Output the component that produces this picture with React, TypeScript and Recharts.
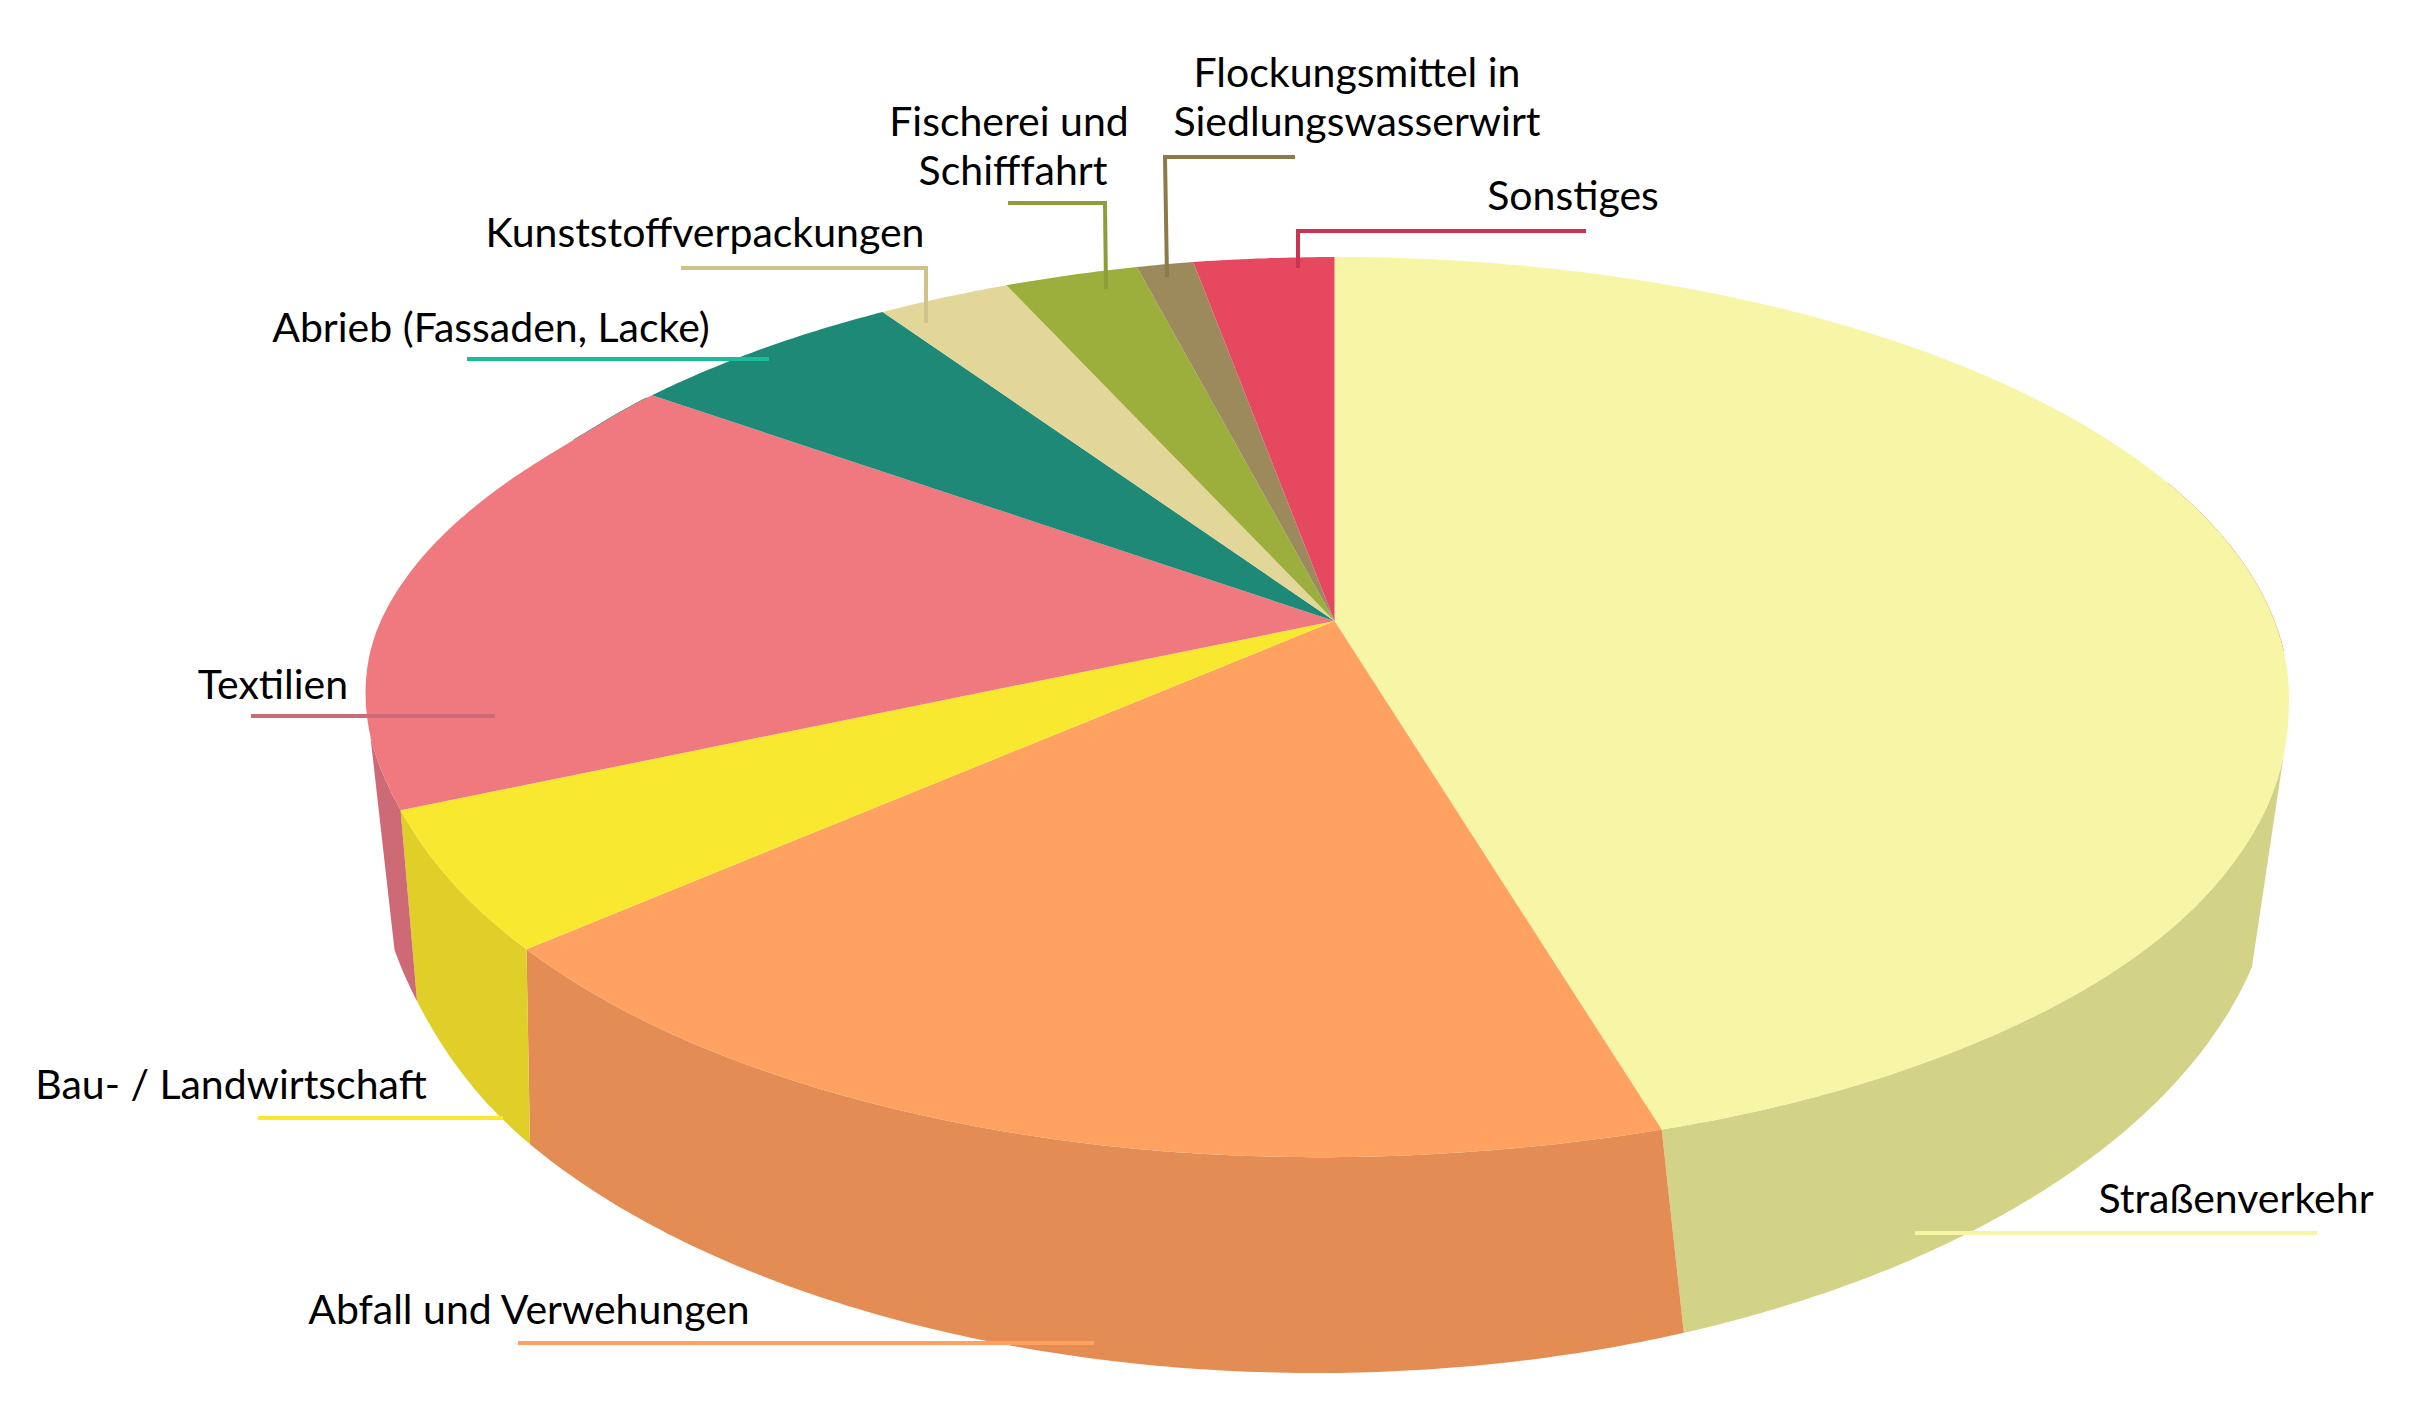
import React from "react";
import { PieChart, Pie } from "recharts";

const categories = [
  "Straßenverkehr",
  "Abfall und Verwehungen",
  "Bau- / Landwirtschaft",
  "Textilien",
  "Abrieb (Fassaden, Lacke)",
  "Kunststoffverpackungen",
  "Fischerei und Schifffahrt",
  "Flockungsmittel in Siedlungswasserwirt",
  "Sonstiges",
];
const shares = [45.33, 18.16, 4.87, 16.78, 5.65, 2.66, 2.66, 1.12, 2.77];
const topColors = ["#F6F6A6", "#FFA160", "#F9E830", "#EF797E", "#1E8977", "#E2D798", "#9CAE3B", "#9C8A5C", "#E6485F"];
const wallColors = ["#D3D387", "#E38D55", "#DFCF28", "#CD6A76", "#1E8977", "#E2D798", "#9CAE3B", "#9C8A5C", "#E6485F"];
const lineColors = ["#F6F6A6", "#FFA160", "#F9E830", "#CC6A78", "#1ABC9C", "#CFC28A", "#8E9C3A", "#8B7B4B", "#CC3350"];
const labelLines = [
  ["Straßenverkehr"],
  ["Abfall und Verwehungen"],
  ["Bau- / Landwirtschaft"],
  ["Textilien"],
  ["Abrieb (Fassaden, Lacke)"],
  ["Kunststoffverpackungen"],
  ["Fischerei und", "Schifffahrt"],
  ["Flockungsmittel in", "Siedlungswasserwirt"],
  ["Sonstiges"],
];

// Label layout: centre x of the text and baseline y per line.
const labelAnchors: [number[], number[]][] = [
  [[2236], [1213]],
  [[529], [1324]],
  [[231], [1099]],
  [[273], [699]],
  [[491], [342]],
  [[705], [247]],
  [[1009, 1013], [136, 185]],
  [[1357, 1357], [87, 136]],
  [[1573], [210]],
];
const leaderPaths = [
  "M1915 1233H2317",
  "M518 1343H1094",
  "M258 1118H503",
  "M251 716H495",
  "M467 359H769",
  "M681 268H926V323",
  "M1008 203H1105L1106 289",
  "M1295 157H1165L1167 277",
  "M1586 231H1298V268",
];

// Projection of the tilted disc onto the page.
const APEX_X = 1334.5;
const APEX_Y = 621;
const RIM_CY = 697;
const A_RIGHT = 954.5;
const A_LEFT = 970.5;
const B_UP = 440;
const B_DOWN = 458;
const Q = -0.173;
const WALL_FROM = 106.9;
const WALL_TO = 255.3;
// radial trim of the upper rim, by angle clockwise from the top
const rimTrim: [number, number][] = [
  [0, 0], [100, 0], [115, 6], [130, 10], [150, 6], [170, 1.5], [195, 4], [215, 3], [232, -2.5], [246, -6],
  [258, -2], [268, -1.5], [278, -7], [290, -16], [298, -20], [306, -15], [326, -6], [345, -1], [360, 0],
];
// lower rim: an ellipse, reached from the slice angle through these stations
const LOW_CX = 1318;
const LOW_CY = 850;
const LOW_A = 959;
const LOW_B = 523;
const lowStations: [number, number][] = [
  [106.9, 12.9],
  [163.2, 67.4],
  [228.5, 145.7],
  [246.2, 163.3],
  [255.3, 169],
];
const lowShift: [number, number][] = [
  [0, 0], [60, -3], [120, 0], [146, 5], [163, 17], [180, 17],
];
// hair-thin edges of other slices that peek out past the rim: slice, from, to
const rimEdges: [number, number, number][] = [
  [1, 70, 94],
  [4, 298, 306],
];

function spline(ts: number[], vs: number[], t: number): number {
  const n = ts.length;
  if (t <= ts[0]) return vs[0];
  if (t >= ts[n - 1]) return vs[n - 1];
  let i = 0;
  while (t > ts[i + 1]) i++;
  const slope = (k: number) => {
    if (k === 0) return (vs[1] - vs[0]) / (ts[1] - ts[0]);
    if (k === n - 1) return (vs[n - 1] - vs[n - 2]) / (ts[n - 1] - ts[n - 2]);
    return (vs[k + 1] - vs[k - 1]) / (ts[k + 1] - ts[k - 1]);
  };
  const h = ts[i + 1] - ts[i];
  const u = (t - ts[i]) / h;
  const u2 = u * u;
  const u3 = u2 * u;
  return (
    (2 * u3 - 3 * u2 + 1) * vs[i] +
    (u3 - 2 * u2 + u) * h * slope(i) +
    (-2 * u3 + 3 * u2) * vs[i + 1] +
    (u3 - u2) * h * slope(i + 1)
  );
}

const S = Math.sqrt(1 - Q * Q);
const trimT = rimTrim.map((r) => r[0]);
const trimV = rimTrim.map((r) => r[1]);
function rim(theta: number): [number, number] {
  const r = (theta * Math.PI) / 180;
  const ux = Math.sin(r);
  const uy = -Math.cos(r);
  const den = 1 + Q * uy;
  const X = (ux * S) / den;
  const Y = (uy + Q) / den;
  const px = APEX_X + X * (X >= 0 ? A_RIGHT : A_LEFT);
  const py = RIM_CY + Y * (Y >= 0 ? B_DOWN : B_UP);
  const len = Math.hypot(px - APEX_X, py - APEX_Y);
  const k = 1 + spline(trimT, trimV, ((theta % 360) + 360) % 360) / len;
  return [APEX_X + (px - APEX_X) * k, APEX_Y + (py - APEX_Y) * k];
}
const stT = lowStations.map((r) => r[0]);
const stP = lowStations.map((r) => r[1]);
const shT = lowShift.map((r) => r[0]);
const shV = lowShift.map((r) => r[1]);
function rimLow(theta: number): [number, number] {
  const psi = spline(stT, stP, theta);
  const r = (psi * Math.PI) / 180;
  return [LOW_CX + LOW_A * Math.cos(r) + spline(shT, shV, psi), LOW_CY + LOW_B * Math.sin(r)];
}
function sampled(from: number, to: number): number[] {
  const out: number[] = [];
  const n = Math.max(2, Math.ceil((to - from) / 0.5));
  for (let i = 0; i <= n; i++) out.push(from + ((to - from) * i) / n);
  return out;
}
const pts = (list: [number, number][]) => list.map((p) => `${p[0].toFixed(1)} ${p[1].toFixed(1)}`).join("L");

function TopSlice(props: any) {
  const from = 90 - props.startAngle;
  const to = 90 - props.endAngle;
  const d = `M${props.cx} ${props.cy}L${pts(sampled(from, to).map(rim))}Z`;
  return <path d={d} fill={topColors[categories.indexOf(props.name)]} />;
}
function WallSlice(props: any) {
  const idx = categories.indexOf(props.name);
  const from = Math.max(90 - props.startAngle, WALL_FROM);
  const to = Math.min(90 - props.endAngle, WALL_TO);
  const edges = rimEdges.filter((e) => e[0] === idx);
  const ts = to > from ? sampled(from, to) : [];
  return (
    <g>
      {ts.length > 0 && <path d={`M${pts(ts.map(rim))}L${pts([...ts].reverse().map(rimLow))}Z`} fill={wallColors[idx]} />}
      {edges.map((e, k) => (
        <path key={k} d={`M${pts(sampled(e[1], e[2]).map(rim))}`} fill="none" stroke={topColors[idx]} strokeWidth={1} />
      ))}
    </g>
  );
}
function SliceLabel(props: any) {
  const i = props.index as number;
  const [xs, ys] = labelAnchors[i];
  return (
    <g>
      <path d={leaderPaths[i]} fill="none" stroke={lineColors[i]} strokeWidth={4} />
      {labelLines[i].map((t, k) => (
        <text key={k} x={xs[k]} y={ys[k]} textAnchor="middle" fontFamily="Lato" fontSize={41} fill="#000">
          {t}
        </text>
      ))}
    </g>
  );
}

const rows = categories.map((name, i) => ({ name, value: shares[i] }));

export default function App() {
  return (
    <div style={{ position: "absolute", left: 0, top: 0, width: 2430, height: 1420, background: "#fff" }}>
      <PieChart width={2430} height={1420} margin={{ top: 0, right: 0, bottom: 0, left: 0 }}>
        <Pie data={rows} dataKey="value" cx={APEX_X} cy={APEX_Y} outerRadius={400} startAngle={90} endAngle={-270}
          isAnimationActive={false} shape={WallSlice} stroke="none" />
        <Pie data={rows} dataKey="value" cx={APEX_X} cy={APEX_Y} outerRadius={400} startAngle={90} endAngle={-270}
          isAnimationActive={false} shape={TopSlice} stroke="none" label={SliceLabel} labelLine={false} />
      </PieChart>
    </div>
  );
}
